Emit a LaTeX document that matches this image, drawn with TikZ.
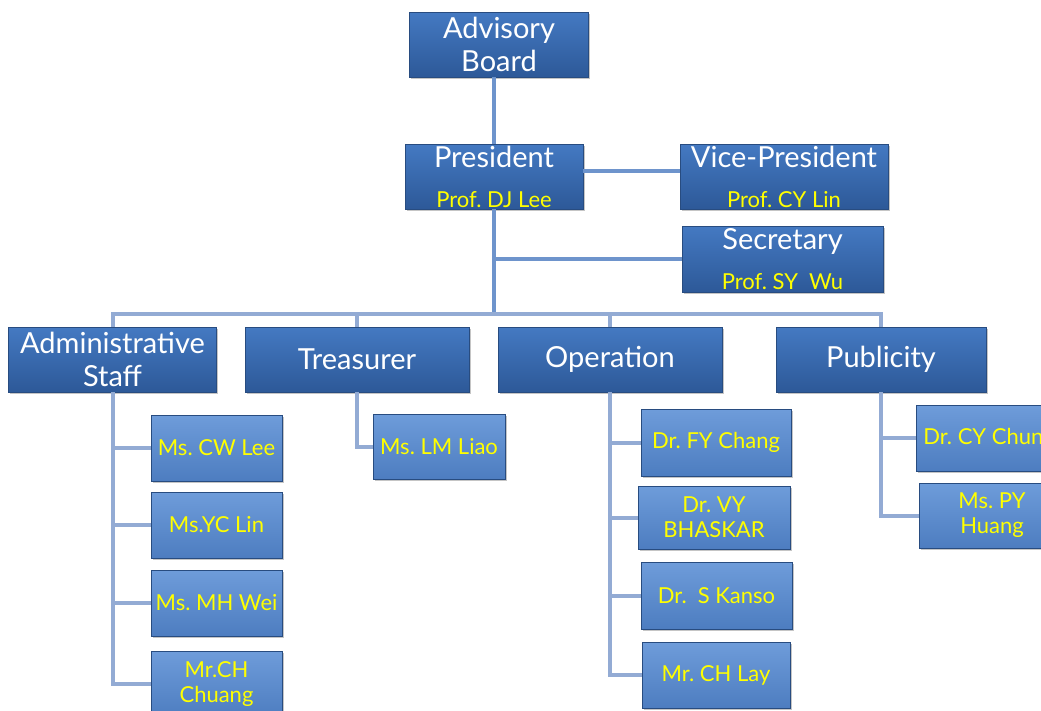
\documentclass[tikz,border=0pt]{standalone}
\usepackage{fontspec}
\setmainfont{Lato}
\usetikzlibrary{shadows}
\definecolor{unittop}{HTML}{4479C2}
\definecolor{unitbot}{HTML}{2D5998}
\definecolor{membertop}{HTML}{6E9CDA}
\definecolor{memberbot}{HTML}{4D7DC0}
\definecolor{boxline}{HTML}{284C80}
\definecolor{linkmain}{HTML}{6E94CC}
\definecolor{linksub}{HTML}{93ABD4}
\definecolor{nameyellow}{HTML}{FFFF00}
\newcommand{\titlefont}{\fontsize{29}{33}\selectfont}
\newcommand{\namefont}{\fontsize{22}{24}\selectfont\color{nameyellow}}
\newcommand{\memberfont}{\fontsize{22}{25}\selectfont}
\frenchspacing

\begin{document}
\begin{tikzpicture}[x=1pt,y=-1pt,
		unit/.style={rectangle,draw=boxline,line width=0.6pt,top color=unittop,bottom color=unitbot,text=white,font=\titlefont,align=center,inner sep=0pt,drop shadow={shadow xshift=1.5pt,shadow yshift=-1.5pt,opacity=.45}},
		member/.style={unit,top color=membertop,bottom color=memberbot,text=nameyellow,font=\memberfont},
		link/.style={draw=linkmain,line width=4pt},
		sublink/.style={draw=linksub,line width=4pt}]
	\clip (0,0) rectangle (1041,710);
	\fill[white] (0,0) rectangle (1041,710);

	\node (advisory)[unit,minimum width=179pt,minimum height=65pt] at (499,44.5){Advisory\\Board};
	\node (president)[unit,minimum width=178pt,minimum height=65pt] at (494,176.5){President\\[7pt]{\namefont Prof. DJ Lee}};
	\node (vicepres)[unit,minimum width=208pt,minimum height=65pt] at (784,176.5){Vice-President\\[7pt]{\namefont Prof. CY Lin}};
	\node (secretary)[unit,minimum width=201pt,minimum height=66pt] at (782.5,259){Secretary\\[7pt]{\namefont Prof. SY\enspace Wu}};

	\node (admin)[unit,minimum width=208pt,minimum height=65pt] at (112.5,359.5){Administrative\\Staff};
	\node (treasurer)[unit,minimum width=224pt,minimum height=65pt] at (357,359.5){Treasurer};
	\node (operation)[unit,minimum width=224pt,minimum height=65pt] at (610,359.5){Operation};
	\node (publicity)[unit,minimum width=210pt,minimum height=65pt] at (881,359.5){Publicity};

	\node (cwlee)[member,minimum width=131pt,minimum height=66pt] at (216.5,448){Ms. CW Lee};
	\node (yclin)[member,minimum width=131pt,minimum height=66pt] at (216.5,525){Ms.YC Lin};
	\node (mhwei)[member,minimum width=131pt,minimum height=66pt] at (216.5,603){Ms. MH Wei};
	\node (chchuang)[member,minimum width=131pt,minimum height=66pt] at (216.5,684){Mr.CH\\Chuang};

	\node (lmliao)[member,minimum width=132pt,minimum height=65pt] at (439,446.5){Ms. LM Liao};

	\node (fychang)[member,minimum width=150pt,minimum height=67pt] at (716,442.5){Dr. FY Chang};
	\node (vybhaskar)[member,minimum width=152pt,minimum height=63pt] at (714,517.5){Dr. VY\\BHASKAR};
	\node (skanso)[member,minimum width=151pt,minimum height=67pt] at (716.5,595.5){Dr.\enspace S Kanso};
	\node (chlay)[member,minimum width=148pt,minimum height=66pt] at (716,675){Mr. CH Lay};

	\node (cychung)[member,minimum width=146pt,minimum height=66pt] at (989,438){Dr. CY Chung};
	\node (pyhuang)[member,minimum width=146pt,minimum height=65pt] at (992,515.5){Ms. PY\\Huang};

	\coordinate (bus) at (494,314);

	\draw[link] (president.north) -- (president.north |- advisory.south);
	\draw[link] ([yshift=6pt]president.east) -- ([yshift=6pt]vicepres.west);
	\draw[link] (secretary.west) -- (secretary.west -| president.south);
	\draw[link] (president.south) -- (bus);
	\draw[sublink] (admin.north) |- (bus) -| (publicity.north);
	\draw[sublink] (treasurer.north) -- (treasurer.north |- bus);
	\draw[sublink] (operation.north) -- (operation.north |- bus);

	\foreach \kid in {cwlee,yclin,mhwei,chchuang}
		\draw[sublink] (admin.south) |- (\kid.west);
	\draw[sublink] (treasurer.south) |- (lmliao.west);
	\foreach \kid in {fychang,vybhaskar,skanso,chlay}
		\draw[sublink] (operation.south) |- (\kid.west);
	\foreach \kid in {cychung,pyhuang}
		\draw[sublink] (publicity.south) |- (\kid.west);
\end{tikzpicture}
\end{document}
